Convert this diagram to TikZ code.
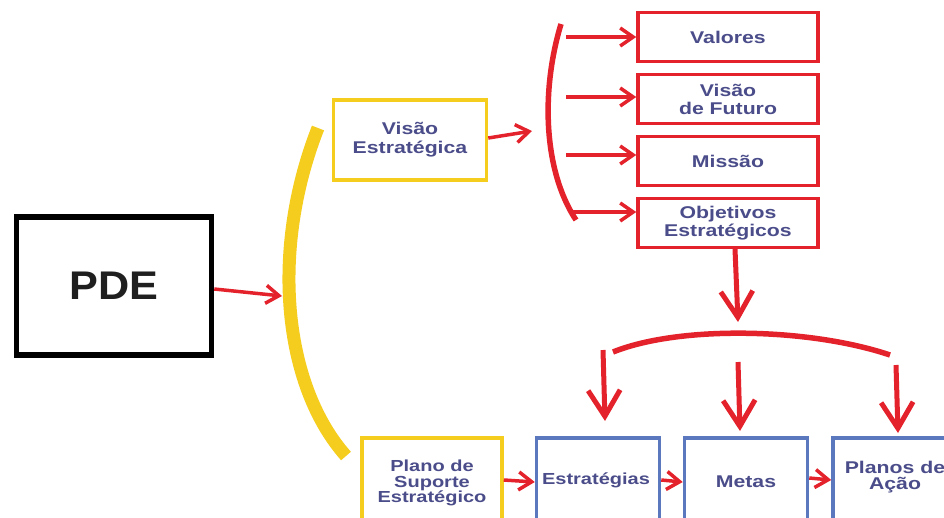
\documentclass[tikz,border=0pt]{standalone}
\usepackage{fontspec}
\setmainfont{Liberation Sans}
\newfontfamily\wide[FakeStretch=1.25]{Liberation Sans}
\newfontfamily\pdefont[FakeStretch=1.08]{Liberation Sans}
\usetikzlibrary{arrows.meta}
\definecolor{rd}{HTML}{E3222B}
\definecolor{yl}{HTML}{F5CD1E}
\definecolor{bl}{HTML}{5B77BE}
\definecolor{tx}{HTML}{4B4D8A}
\begin{document}
\begin{tikzpicture}[x=1pt,y=-1pt,
  box/.style={draw, line width=3.5pt, fill=white, inner sep=0pt, align=center,
    text=tx, font=\wide\bfseries\fontsize{17}{19}\selectfont},
  rbox/.style={box, draw=rd, minimum width=180, minimum height=49},
  ybox/.style={box, draw=yl},
  bbox/.style={box, draw=bl, minimum height=86},
  lbl/.style={text=tx, align=center, inner sep=0pt, font=\wide\bfseries\fontsize{17}{19}\selectfont},
  arr/.style={draw=rd, line width=3.5pt, -{Straight Barb[length=13pt,width=18pt,line width=3.5pt]}},
  bigarr/.style={draw=rd, line width=5pt, -{Straight Barb[length=26pt,width=32pt,line width=5pt]}}]
\useasboundingbox (0,0) rectangle (944,517);
\clip (0,0) rectangle (944,517);

% PDE
\node[draw=black, line width=5.5pt, minimum width=195, minimum height=138, inner sep=0pt,
  font=\pdefont\bfseries\fontsize{40}{44}\selectfont, text=black!88] (pde) at (114,286) {PDE};

% yellow bracket
\draw[yl, line width=13pt] (318,128) .. controls (270,250) and (283,385) .. (346,456);
\coordinate (ybr) at (282,296);

% Visão Estratégica
\node[ybox, minimum width=153, minimum height=80] (vis) at (410,140) {Visão\\Estratégica};

% red bracket
\draw[rd, line width=5.5pt] (561,24) .. controls (541,90) and (543,170) .. (576,220);
\coordinate (rbr) at (532,131);
\coordinate (b1) at (566,37);
\coordinate (b2) at (566,97);
\coordinate (b3) at (566,155);
\coordinate (b4) at (572,212);

% red boxes
\node[rbox] (val) at (728,37) {Valores};
\node[rbox] (vf) at (728,99) {Visão\\[-1pt]de Futuro};
\node[rbox] (mis) at (728,161) {Missão};
\node[rbox] (obj) at (728,223) {Objetivos\\[-1pt]Estratégicos};

% bottom boxes
\node[ybox, minimum width=140, minimum height=86] (pse) at (432,481) {};
\node[lbl, font=\wide\bfseries\fontsize{16}{15.5}\selectfont] at (432,483) {Plano de\\Suporte\\Estratégico};
\node[bbox, minimum width=123] (est) at (598,481) {};
\node[lbl, font=\wide\bfseries\fontsize{16}{18}\selectfont] at (596,480) {Estratégias};
\node[bbox, minimum width=123] (met) at (746,481) {};
\node[lbl] at (746,482) {Metas};
\node[bbox, minimum width=120] (pla) at (893,481) {};
\node[lbl, font=\wide\bfseries\fontsize{17}{15.5}\selectfont] at (895,477) {Planos de\\Ação};

% arrows
\draw[arr] (pde.east |- 0,289) -- (ybr);
\draw[arr] (vis.east |- 0,138) -- (rbr);
\draw[arr] (b1) -- (val.west |- b1);
\draw[arr] (b2) -- (vf.west |- b2);
\draw[arr] (b3) -- (mis.west |- b3);
\draw[arr] (b4) -- (obj.west |- b4);

% down arrow and arc
\coordinate (dn) at (738,322);
\draw[bigarr] (735,249) -- (dn);
\draw[rd, line width=5.5pt] (613,352) .. controls (680,325) and (810,328) .. (890,355);
\coordinate (s1) at (603,350);
\coordinate (s2) at (738,362);
\coordinate (s3) at (896,365);
\draw[bigarr] (s1) -- (605,421);
\draw[bigarr] (s2) -- (740,431);
\draw[bigarr] (s3) -- (898,433);

\draw[arr] (pse.east |- 0,480) -- (est.west |- 0,482);
\draw[arr] (est.east |- 0,480) -- (met.west |- 0,482);
\draw[arr] (met.east |- 0,478) -- (pla.west |- 0,480);
\end{tikzpicture}
\end{document}
